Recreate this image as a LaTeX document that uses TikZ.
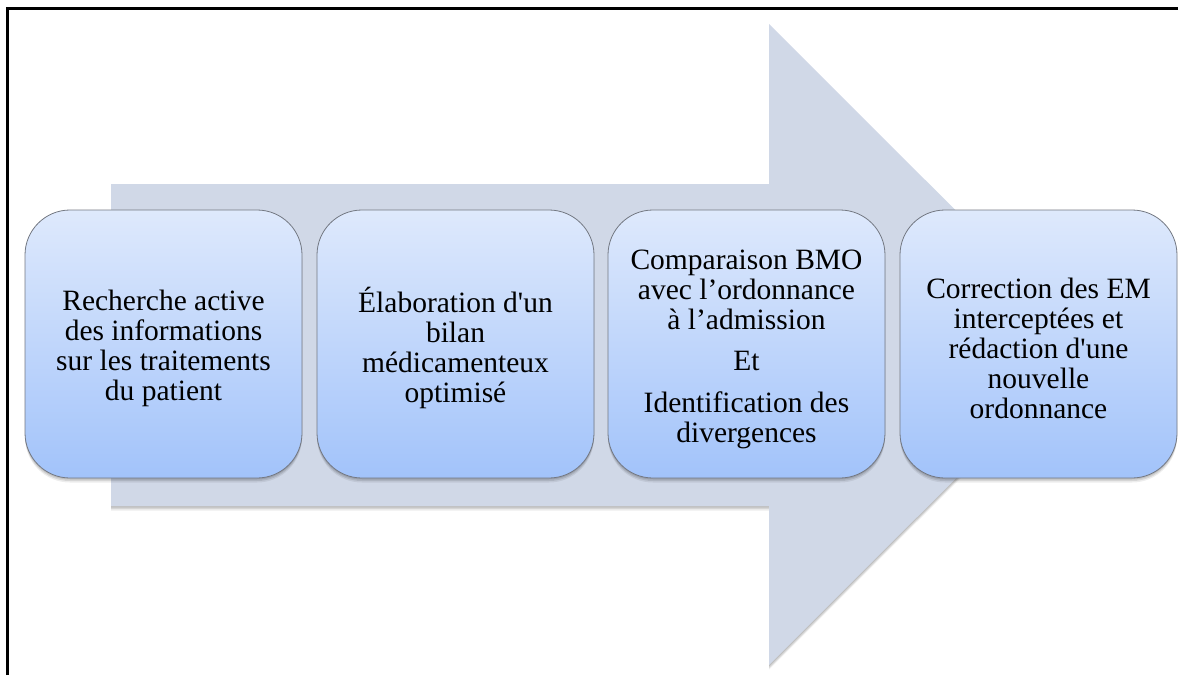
\documentclass[tikz,border=0pt]{standalone}
\usepackage{fontspec}
\setmainfont{Liberation Serif}
\usetikzlibrary{shadows}
\definecolor{arrowfill}{RGB}{208,216,231}
\definecolor{boxtop}{RGB}{222,233,252}
\definecolor{boxbot}{RGB}{162,195,250}
\definecolor{boxline}{RGB}{115,120,130}
\newcommand{\sq}{\textquotesingle}
\tikzset{
  softshadow/.style={
    general shadow={fill=black, opacity=0.10, shadow yshift=-1.5pt},
    general shadow={fill=black, opacity=0.10, shadow yshift=-3pt},
    general shadow={fill=black, opacity=0.07, shadow yshift=-4.5pt}
  },
  stepbox/.style={
    rectangle, rounded corners=45pt, minimum width=277pt, minimum height=268pt,
    top color=boxtop, bottom color=boxbot, draw=boxline, line width=0.8pt,
    align=center, inner sep=0pt, text=black,
    font=\fontsize{29.5}{30}\selectfont, softshadow
  },
  steptext/.style={align=center, inner sep=0pt, text=black,
    font=\fontsize{29.5}{30}\selectfont},
  bigarrow/.style={fill=arrowfill, draw=none, softshadow},
  frameline/.style={line width=2.6pt, draw=black}
}
\begin{document}
\begin{tikzpicture}[x=1pt,y=-1pt]
\useasboundingbox (0,0) rectangle (1178,675);
% frame (top and left only)
\coordinate (fl) at (7.5,675);
\coordinate (fc) at (7.5,8.5);
\coordinate (fr) at (1178,8.5);
\draw[frameline] (fl) -- (fc) -- (fr);
% background arrow
\path[bigarrow] (111,184) -- (769,184) -- (769,24) -- (1090,344.5) -- (769,665) -- (769,506) -- (111,506) -- cycle;
% steps
\node[stepbox] (b1) at (163.5,344) {};
\node[stepbox] (b2) at (455.5,344) {};
\node[stepbox] (b3) at (746.5,344) {};
\node[stepbox] (b4) at (1038.5,344) {};
\node[steptext] (t1) at ([yshift=-4pt]b1.center) {Recherche active\\des informations\\sur les traitements\\du patient};
\node[steptext] (t2) at ([yshift=-4pt]b2.center) {Élaboration d\sq un\\bilan\\médicamenteux\\optimisé};
\node[steptext] (t3) at ([yshift=-5pt]b3.center) {Comparaison BMO\\avec l’ordonnance\\à l’admission\\[11pt]Et\\[12pt]Identification des\\divergences};
\node[steptext] (t4) at ([yshift=-4pt]b4.center) {Correction des EM\\interceptées et\\rédaction d\sq une\\nouvelle\\ordonnance};
\end{tikzpicture}
\end{document}
